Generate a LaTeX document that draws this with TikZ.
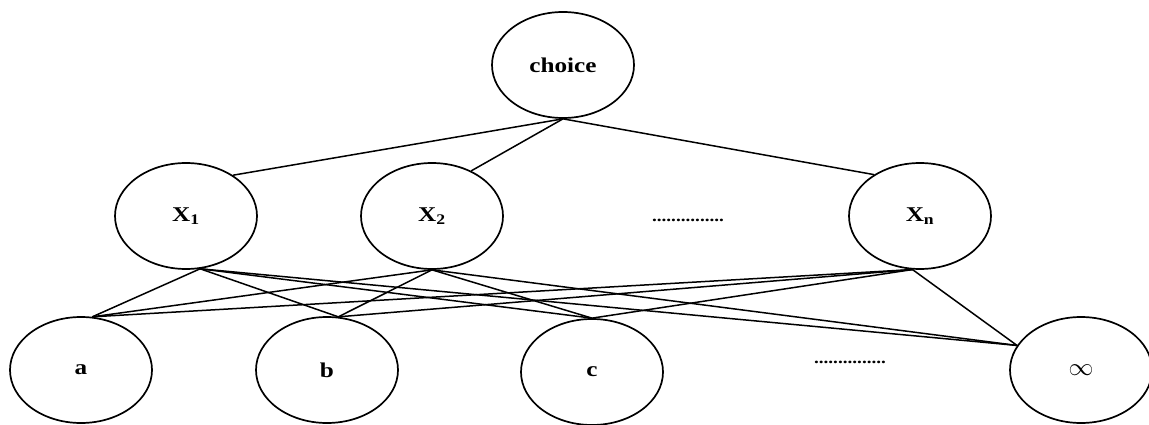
\documentclass[tikz,border=0pt]{standalone}
\usepackage{fontspec}
\setmainfont{Liberation Serif}[FakeStretch=1.2]
\usetikzlibrary{shapes.geometric}

\begin{document}
\begin{tikzpicture}[x=1pt,y=-1pt,
	vert/.style={draw, ellipse, line width=1.7pt, minimum width=142pt, minimum height=106pt, inner sep=0pt, font=\fontsize{21}{25}\selectfont\bfseries},
	dotsline/.style={anchor=base, inner sep=0pt, font=\fontsize{16}{16}\selectfont\bfseries},
	edge/.style={line width=1.5pt}]
					\useasboundingbox (0,0) rectangle (1149,425);
					\node[vert] (choice) at (563,65) {choice};
					\node[vert] (x1) at (186,216) {X\textsubscript{1}};
					\node[vert] (x2) at (432,216) {X\textsubscript{2}};
					\node[vert] (xn) at (920,216) {X\textsubscript{n}};
					\node[dotsline] (dotsx) at (688,222) {...............};
					\node[vert] (a) at (81,370) {a};
					\node[vert] (b) at (327,370) {b};
					\node[vert] (c) at (592,372) {c};
					\node[dotsline] (dotsy) at (850,363) {...............};
					\node[vert] (inf) at (1081,370) {\fontsize{27}{27}\selectfont$\infty$};
					\draw[edge] (choice.south) -- (x1.41);
					\draw[edge] (choice.south) -- (x2.49);
					\draw[edge] (choice.south) -- (xn.138);
					\draw[edge] (x1.-75) -- (a.78);
					\draw[edge] (x1.-75) -- (b.78);
					\draw[edge] (x1.-75) -- (c.north);
					\draw[edge] (x1.-75) -- (inf.159);
					\draw[edge] (x2.south) -- (a.78);
					\draw[edge] (x2.south) -- (b.78);
					\draw[edge] (x2.south) -- (c.north);
					\draw[edge] (x2.south) -- (inf.159);
					\draw[edge] (xn.-98) -- (a.78);
					\draw[edge] (xn.-98) -- (b.78);
					\draw[edge] (xn.-98) -- (c.north);
					\draw[edge] (xn.-98) -- (inf.159);
					\end{tikzpicture}
\end{document}
